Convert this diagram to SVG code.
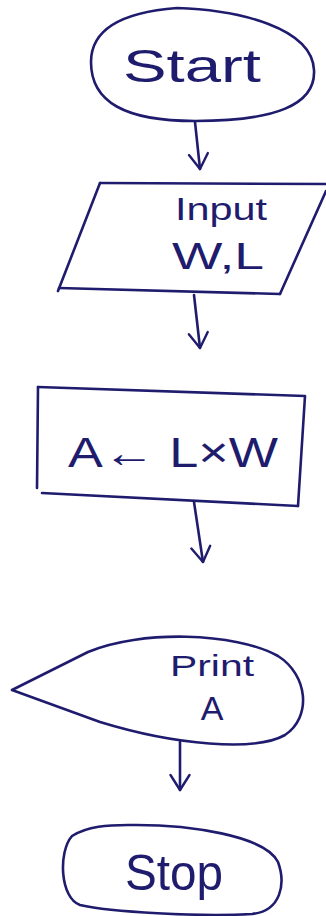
<svg xmlns="http://www.w3.org/2000/svg" width="326" height="916" viewBox="0 0 326 916">
  <style>
    .ink { fill: none; stroke: #1f1c6e; stroke-width: 2.6; stroke-linecap: round; stroke-linejoin: round; }
    .label { fill: #1f1c6e; font-family: "Liberation Sans", "DejaVu Sans", sans-serif; text-anchor: middle; }
  </style>
  <defs>
    <!-- open V arrowhead, tip along +x -->
    <marker id="head" viewBox="0 0 20 22" refX="17" refY="11" markerWidth="20" markerHeight="22" markerUnits="userSpaceOnUse" orient="auto">
      <path d="M2,1.5 L17,11 L2,20.5" fill="none" stroke="#1f1c6e" stroke-width="2.4" stroke-linecap="round" stroke-linejoin="round"/>
    </marker>
  </defs>
  <rect width="326" height="916" fill="#ffffff"/>

  <!-- terminal: Start -->
  <g id="start">
    <path class="ink" d="M177,8 C240,10 312,28 314,70 C316,105 275,121 195,121 C125,121 91,102 91,62 C91,28 125,12 177,8 Z"/>
    <text class="label" x="192" y="82" font-size="46" textLength="138" lengthAdjust="spacingAndGlyphs">Start</text>
  </g>

  <!-- input: W, L -->
  <g id="input">
    <path class="ink" d="M100,183 L326,184"/>
    <path class="ink" d="M326,191 L280,294"/>
    <path class="ink" d="M59,288 L280,294"/>
    <path class="ink" d="M100,183 L58,291"/>
    <text class="label" x="221" y="220" font-size="32" textLength="92" lengthAdjust="spacingAndGlyphs">Input</text>
    <text class="label" x="218" y="269" font-size="36" textLength="92" lengthAdjust="spacingAndGlyphs">W,L</text>
  </g>

  <!-- process: area -->
  <g id="area">
    <path class="ink" d="M38,387 L305,396 L298,506"/>
    <path class="ink" d="M42,493 L298,506"/>
    <path class="ink" d="M38,387 L37,488"/>
    <text class="label" x="173" y="467" font-size="42" textLength="210" lengthAdjust="spacingAndGlyphs">A← L×W</text>
  </g>

  <!-- output: Print A -->
  <g id="print">
    <path class="ink" d="M12,690 L88,652 C140,630 235,632 278,656 C308,675 312,717 285,735 C255,752 175,745 100,722 Z"/>
    <text class="label" x="212" y="676" font-size="30" textLength="84" lengthAdjust="spacingAndGlyphs">Print</text>
    <text class="label" x="212" y="720" font-size="34">A</text>
  </g>

  <!-- terminal: Stop -->
  <g id="stop">
    <path class="ink" d="M128,825 C190,824 265,836 278,862 C286,884 281,911 252,914 C200,917 110,912 80,905 C60,898 58,852 72,836 C88,826 108,825 128,825 Z"/>
    <text class="label" x="174" y="890" font-size="50" textLength="98" lengthAdjust="spacingAndGlyphs">Stop</text>
  </g>

  <!-- flow lines -->
  <g id="connectors">
    <path class="ink" d="M195,122 L200,169" marker-end="url(#head)"/>
    <path class="ink" d="M194,295 L200,348" marker-end="url(#head)"/>
    <path class="ink" d="M194,502 L203,562" marker-end="url(#head)"/>
    <path class="ink" d="M180,742 L180,790" marker-end="url(#head)"/>
  </g>
</svg>
